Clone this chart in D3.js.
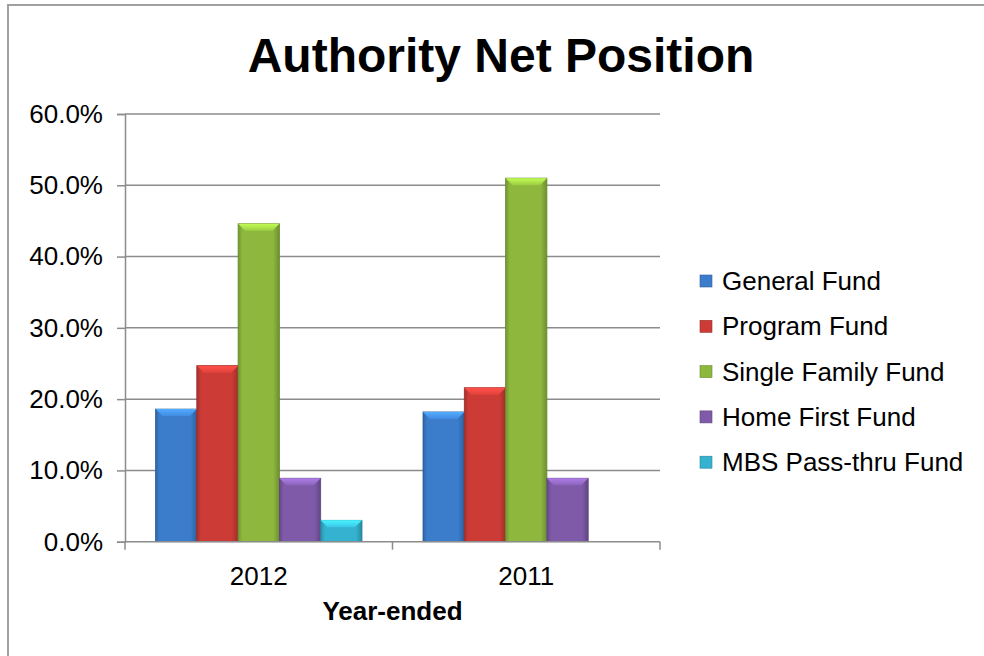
<!DOCTYPE html>
<html>
<head>
<meta charset="utf-8">
<script src="https://cdn.jsdelivr.net/npm/d3@7"></script>
<style>
  body { margin: 0; background: #fff; }
  svg { display: block; }
  text { font-family: "Liberation Sans", Arial, sans-serif; fill: #000; }
</style>
</head>
<body>
<div id="chart"></div>
<script>
var w = 984,
    h = 656;

// data
var years = ["2012", "2011"];
var funds = ["General Fund", "Program Fund", "Single Family Fund", "Home First Fund", "MBS Pass-thru Fund"];
var values2012 = [18.6, 24.7, 44.6, 8.9, 3.0];
var values2011 = [18.2, 21.6, 51.0, 8.9, 0];
var yTicks = [0, 10, 20, 30, 40, 50, 60];
var colors = ["#3b7dcb", "#cd3b36", "#8db83d", "#7e5aa8", "#34b2d0"];

var valuesByYear = { "2012": values2012, "2011": values2011 };

var svg = d3.select("#chart")
            .append("svg")
            .attr("width", w)
            .attr("height", h);

var defs = svg.append("defs");

// side-shaded gradients for the bevelled bars
colors.forEach(function(c, i) {
  var g = defs.append("linearGradient")
              .attr("id", "grad" + i)
              .attr("x1", "0").attr("x2", "1")
              .attr("y1", "0").attr("y2", "0");
  g.append("stop").attr("offset", "0%").attr("stop-color", d3.color(c).darker(0.6));
  g.append("stop").attr("offset", "10%").attr("stop-color", c);
  g.append("stop").attr("offset", "85%").attr("stop-color", c);
  g.append("stop").attr("offset", "100%").attr("stop-color", d3.color(c).darker(0.7));

  var b = defs.append("linearGradient")
              .attr("id", "bev" + i)
              .attr("x1", "0").attr("x2", "0")
              .attr("y1", "0").attr("y2", "1");
  b.append("stop").attr("offset", "0%").attr("stop-color", d3.color(c).brighter(0.9));
  b.append("stop").attr("offset", "100%").attr("stop-color", d3.color(c).brighter(0.3));
});

// outer frame
svg.append("rect")
   .attr("x", 8).attr("y", 5)
   .attr("width", w).attr("height", h + 10)
   .attr("fill", "none")
   .attr("stroke", "#a0a0a0")
   .attr("stroke-width", 2);

var plotLeft = 125, plotRight = 660, plotTop = 114, plotBottom = 541.7;

var x0 = d3.scaleBand().domain(years).range([plotLeft, plotRight]);
var x1 = d3.scaleBand().domain(funds)
           .range([x0.bandwidth() * 0.114, x0.bandwidth() * 0.886]);
var y = d3.scaleLinear().domain([0, 60]).range([plotBottom, plotTop]);

// title
svg.append("text")
   .attr("x", 501).attr("y", 72)
   .attr("text-anchor", "middle")
   .attr("font-size", "48px")
   .attr("font-weight", "bold")
   .text("Authority Net Position");

// gridlines
svg.append("g")
   .selectAll("line")
   .data(yTicks.slice(1))
   .enter().append("line")
   .attr("x1", plotLeft).attr("x2", plotRight)
   .attr("y1", function(d) { return y(d); })
   .attr("y2", function(d) { return y(d); })
   .attr("stroke", "#8c8c8c")
   .attr("stroke-width", 1.5);

// y axis
var yAxis = svg.append("g")
   .attr("transform", "translate(" + plotLeft + ",0)")
   .call(d3.axisLeft(y).tickValues(yTicks).tickSize(8).tickPadding(14)
           .tickFormat(function(d) { return d.toFixed(1) + "%"; }));
yAxis.select(".domain").attr("stroke", "#8c8c8c").attr("stroke-width", 1.5);
yAxis.selectAll(".tick line").attr("stroke", "#8c8c8c").attr("stroke-width", 1.5);
yAxis.selectAll(".tick text")
     .attr("font-size", "26px")
     .attr("font-family", "Liberation Sans, Arial, sans-serif")
     .attr("fill", "#000");

// bars
var groups = svg.append("g")
   .selectAll("g")
   .data(years)
   .enter().append("g")
   .attr("transform", function(d) { return "translate(" + x0(d) + ",0)"; });

groups.each(function(yr) {
  var g = d3.select(this);
  var vals = valuesByYear[yr];
  var data = funds.map(function(f, i) { return { fund: f, i: i, v: vals[i] }; })
                  .filter(function(d) { return d.v > 0; });

  g.selectAll("rect.bar")
   .data(data)
   .enter().append("rect")
   .attr("class", "bar")
   .attr("x", function(d) { return x1(d.fund); })
   .attr("y", function(d) { return y(d.v); })
   .attr("width", x1.bandwidth())
   .attr("height", function(d) { return plotBottom - y(d.v); })
   .attr("fill", function(d) { return "url(#grad" + d.i + ")"; })
   .attr("stroke", function(d) { return d3.color(colors[d.i]).darker(0.8); })
   .attr("stroke-width", 0.8);

  // bevel on top of each bar
  g.selectAll("polygon.bevel")
   .data(data)
   .enter().append("polygon")
   .attr("class", "bevel")
   .attr("points", function(d) {
      var xa = x1(d.fund), xb = xa + x1.bandwidth(), yt = y(d.v), b = 7;
      return [[xa, yt], [xb, yt], [xb - b, yt + b], [xa + b, yt + b]].join(" ");
   })
   .attr("fill", function(d) { return "url(#bev" + d.i + ")"; });
});

// x axis
var xAxis = svg.append("g")
   .attr("transform", "translate(0," + plotBottom + ")");
xAxis.append("line")
   .attr("x1", plotLeft).attr("x2", plotRight)
   .attr("stroke", "#8c8c8c").attr("stroke-width", 1.5);
xAxis.selectAll("line.tk")
   .data([plotLeft, x0(years[1]), plotRight])
   .enter().append("line")
   .attr("class", "tk")
   .attr("x1", function(d) { return d; })
   .attr("x2", function(d) { return d; })
   .attr("y1", 0).attr("y2", 8)
   .attr("stroke", "#8c8c8c").attr("stroke-width", 1.5);
xAxis.selectAll("text")
   .data(years)
   .enter().append("text")
   .attr("x", function(d) { return x0(d) + x0.bandwidth() / 2; })
   .attr("y", 43)
   .attr("text-anchor", "middle")
   .attr("font-size", "26px")
   .text(function(d) { return d; });

svg.append("text")
   .attr("x", (plotLeft + plotRight) / 2)
   .attr("y", 620)
   .attr("text-anchor", "middle")
   .attr("font-size", "26px")
   .attr("font-weight", "bold")
   .text("Year-ended");

// legend
var legend = svg.append("g")
   .selectAll("g")
   .data(funds)
   .enter().append("g")
   .attr("transform", function(d, i) { return "translate(700," + (281 + i * 45.3) + ")"; });

legend.append("rect")
   .attr("x", 0).attr("y", -6)
   .attr("width", 12).attr("height", 12)
   .attr("fill", function(d, i) { return colors[i]; })
   .attr("stroke", function(d, i) { return d3.color(colors[i]).darker(0.8); })
   .attr("stroke-width", 0.6);

legend.append("text")
   .attr("x", 22).attr("y", 9)
   .attr("font-size", "26px")
   .text(function(d) { return d; });
</script>
</body>
</html>
